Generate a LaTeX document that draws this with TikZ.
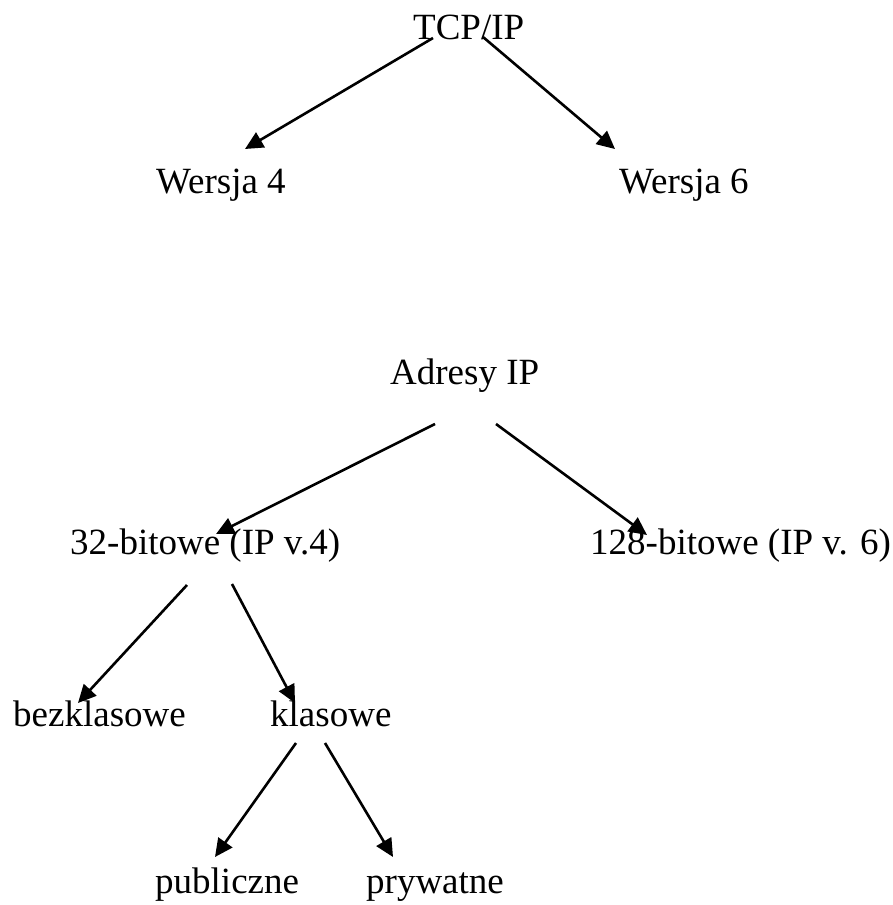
\documentclass[tikz,border=0pt]{standalone}
\usepackage{fontspec}
\setmainfont{Liberation Serif}
\usetikzlibrary{arrows.meta}
\begin{document}
\begin{tikzpicture}[x=1pt,y=-1pt,
  lbl/.style={anchor=base west,inner sep=0pt,font=\fontsize{37}{44}\selectfont},
  conn/.style={line width=2.6pt,-{Triangle[length=18pt,width=17pt]}}]
\useasboundingbox (0,0) rectangle (892,905);
\node[lbl] (tcp) at (413,39) {TCP/IP};
\node[lbl] (w4) at (156,193) {Wersja 4};
\node[lbl] (w6) at (619,193) {Wersja 6};
\node[lbl] (adr) at (390,384) {Adresy IP};
\node[lbl] (b32) at (70,554) {32-bitowe (IP v.4)};
\node[lbl] (b128) at (590,554) {128-bitowe (IP v. 6)};
\node[lbl] (bez) at (13,726) {bezklasowe};
\node[lbl] (kl) at (270,726) {klasowe};
\node[lbl] (pub) at (155,893) {publiczne};
\node[lbl] (pry) at (366,893) {prywatne};
% connector endpoints
\coordinate (tcpL) at (433,38);  \coordinate (w4t) at (245,149);
\coordinate (tcpR) at (483,37);  \coordinate (w6t) at (615,149);
\coordinate (adrL) at (435,424); \coordinate (b32t) at (216,534);
\coordinate (adrR) at (496,424); \coordinate (b128t) at (647,535);
\coordinate (b32L) at (187,585); \coordinate (bezt) at (78,703);
\coordinate (b32R) at (232,584); \coordinate (klt) at (295,703);
\coordinate (klL) at (296,743);  \coordinate (pubt) at (215,857);
\coordinate (klR) at (325,743);  \coordinate (pryt) at (393,857);
\draw[conn] (tcpL) -- (w4t);
\draw[conn] (tcpR) -- (w6t);
\draw[conn] (adrL) -- (b32t);
\draw[conn] (adrR) -- (b128t);
\draw[conn] (b32L) -- (bezt);
\draw[conn] (b32R) -- (klt);
\draw[conn] (klL) -- (pubt);
\draw[conn] (klR) -- (pryt);
\end{tikzpicture}
\end{document}
